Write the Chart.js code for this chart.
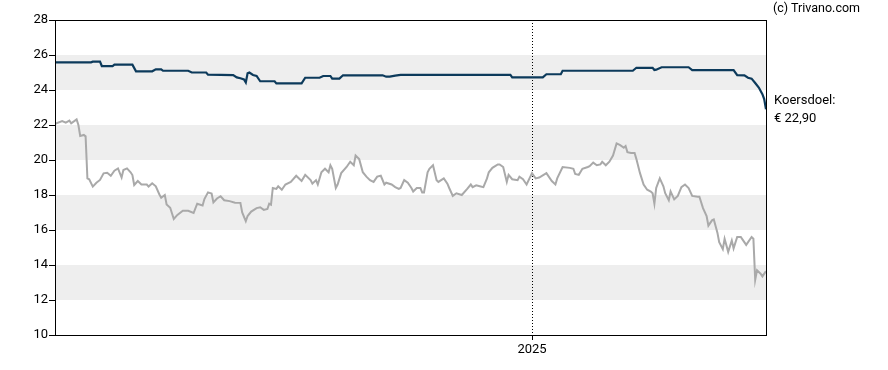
<!DOCTYPE html>
<html>
<head>
<meta charset="utf-8">
<script src="https://cdn.jsdelivr.net/npm/chart.js@4"></script>
<style>
  body { margin: 0; background: #fff; font-family: Roboto, sans-serif; }
  #wrap { position: relative; width: 888px; height: 370px; }
  .note { position: absolute; color: #000; font-size: 12.5px; line-height: 18px; white-space: nowrap; }
</style>
</head>
<body>
<div id="wrap">
  <canvas id="graph" width="888" height="370"></canvas>
  <div class="note" id="copy" style="left:773px; top:-1px;">(c) Trivano.com</div>
  <div class="note" id="target" style="left:774px; top:91px; font-size:13px;">Koersdoel:<br>€ 22,90</div>
</div>
<script>
// trading day index (0 = first day shown) and closing price
const priceDays = [0,4,6,8,9,12,13,14,16,17,18,19,21,23,25,27,29,31,33,35,37,38,40,42,43,44,46,48,51,52,54,56,58,59,61,62,64,66,68,71,74,77,79,82,83,85,87,88,90,92,94,97,100,103,104,106,107,109,112,114,116,118,119,120,121,123,124,126,128,131,134,136,137,139,142,143,145,146,148,150,152,153,154,156,157,159,162,164,166,167,169,171,173,175,177,179,181,183,184,187,189,191,192,194,196,198,199,201,203,204,205,207,208,210,212,213,216,218,219,221,223,226,229,231,232,234,236,238,240,241,243,246,247,249,251,252,254,257,258,260,262,265,267,269,273,276,278,279,282,286,288,289,291,293,296,297,299,301,303,304,306,308,310,312,314,316,317,318,320,322,323,325,327,329,331,332,333,334,336,338,339,341,342,344,346,348,350,352,354,357,358,360,362,363,365,366,368,369,371,372,374,376,377,379,381,382,384,387,388,389,390,392,393,395];
const priceValues = [22.06,22.23,22.14,22.25,22.1,22.32,22.0,21.37,21.43,21.35,18.95,18.9,18.48,18.7,18.86,19.24,19.27,19.1,19.39,19.52,19.0,19.43,19.52,19.3,19.14,18.57,18.8,18.6,18.6,18.48,18.67,18.5,18.03,17.84,18.0,17.46,17.27,16.63,16.86,17.1,17.1,16.97,17.5,17.4,17.77,18.15,18.08,17.58,17.8,17.93,17.7,17.65,17.56,17.55,17.0,16.5,16.8,17.05,17.25,17.3,17.15,17.2,17.5,17.45,18.4,18.35,18.5,18.3,18.6,18.75,19.1,18.9,18.8,19.15,18.85,18.65,18.85,18.6,19.3,19.5,19.3,19.7,19.5,18.4,18.6,19.25,19.6,19.9,19.7,20.25,20.05,19.3,19.05,18.85,18.75,19.05,19.1,18.6,18.7,18.6,18.45,18.35,18.4,18.85,18.7,18.4,18.2,18.4,18.4,18.15,18.15,19.3,19.5,19.7,18.85,18.75,18.95,18.65,18.4,17.95,18.1,18.0,18.35,18.6,18.45,18.55,18.5,18.45,18.95,19.3,19.55,19.75,19.75,19.6,18.75,19.15,18.9,18.85,19.05,18.9,18.6,19.25,18.95,19.0,19.25,18.8,18.6,18.95,19.6,19.55,19.5,19.2,19.15,19.5,19.6,19.65,19.85,19.7,19.75,19.9,19.7,19.9,20.25,20.95,20.85,20.7,20.8,20.45,20.4,20.4,20.05,19.25,18.6,18.3,18.2,18.1,17.5,18.4,18.95,18.5,18.1,17.7,18.2,17.75,17.95,18.45,18.6,18.4,17.95,17.9,17.9,17.25,16.8,16.25,16.55,16.6,15.85,15.3,14.9,15.5,14.75,15.4,14.95,15.6,15.6,15.45,15.15,15.6,15.5,13.15,13.7,13.5,13.35,13.65];

// average analyst price target
const targetDays = [0,20,21,25,26,32,33,43,45,54,56,59,60,74,76,84,85,99,101,103,105,106,107,108,110,112,114,122,123,137,139,147,149,153,154,158,160,182,184,186,189,192,253,254,271,273,281,282,321,323,332,333,334,337,352,354,377,379,383,385,387,389,391,393,394,395];
const targetValues = [25.58,25.58,25.62,25.62,25.37,25.37,25.45,25.45,25.07,25.07,25.18,25.18,25.1,25.1,25.0,25.0,24.88,24.85,24.72,24.67,24.6,24.43,24.95,25.0,24.86,24.8,24.5,24.5,24.38,24.38,24.7,24.7,24.8,24.8,24.65,24.65,24.84,24.84,24.76,24.76,24.82,24.86,24.86,24.72,24.72,24.9,24.9,25.1,25.1,25.27,25.27,25.14,25.16,25.3,25.3,25.14,25.14,24.85,24.84,24.7,24.65,24.4,24.14,23.76,23.48,22.9];

const yearDays = [265];
const yearLabels = ['2025'];
const bands = [[12, 14], [16, 18], [20, 22], [24, 26]];

const toPoints = (xs, ys) => xs.map((x, k) => ({x: x, y: ys[k]}));

const bandPlugin = {
  id: 'bands',
  beforeDraw(chart) {
    const c = chart.ctx, a = chart.chartArea, y = chart.scales.y;
    c.save();
    c.fillStyle = '#eeeeee';
    bands.forEach(b => {
      const top = y.getPixelForValue(b[1]);
      const bot = y.getPixelForValue(b[0]);
      c.fillRect(a.left, top, a.right - a.left, bot - top);
    });
    c.restore();
  }
};

const framePlugin = {
  id: 'frame',
  afterDraw(chart) {
    const c = chart.ctx, a = chart.chartArea;
    c.save();
    c.strokeStyle = '#000';
    c.lineWidth = 1;
    c.strokeRect(Math.round(a.left) + 0.5, Math.round(a.top) + 0.5, Math.round(a.right - a.left), Math.round(a.bottom - a.top));
    c.restore();
  }
};

new Chart(document.getElementById('graph'), {
  type: 'line',
  data: {
    datasets: [{
      label: 'Koersdoel',
      data: toPoints(targetDays, targetValues),
      borderColor: '#0c3a5b',
      borderWidth: 2.2,
      pointRadius: 0,
      tension: 0
    }, {
      label: 'Koers',
      data: toPoints(priceDays, priceValues),
      borderColor: '#a9a9a9',
      borderWidth: 2,
      pointRadius: 0,
      tension: 0
    }]
  },
  options: {
    responsive: false,
    animation: false,
    devicePixelRatio: 1,
    layout: { padding: { top: 20, right: 122, left: 0, bottom: 0 } },
    plugins: { legend: { display: false }, tooltip: { enabled: false } },
    scales: {
      x: {
        type: 'linear',
        min: 0,
        max: 395,
        afterBuildTicks: s => { s.ticks = yearDays.map(v => ({value: v})); },
        afterFit: s => { s.height = 35; },
        ticks: {
          autoSkip: false,
          maxRotation: 0,
          padding: 2,
          color: '#000',
          font: { family: 'Roboto', size: 13 },
          callback: v => yearLabels[yearDays.indexOf(v)]
        },
        grid: { color: '#000', lineWidth: 1, tickLength: 5, tickBorderDash: [] },
        border: { display: true, color: '#000', dash: [1, 2] }
      },
      y: {
        min: 10,
        max: 28,
        afterFit: s => { s.width = 55; },
        ticks: {
          stepSize: 2,
          padding: 1,
          color: '#000',
          font: { family: 'Roboto', size: 13 }
        },
        grid: { drawOnChartArea: false, color: '#000', tickLength: 6 },
        border: { color: '#000' }
      }
    }
  },
  plugins: [bandPlugin, framePlugin]
});
</script>
</body>
</html>
